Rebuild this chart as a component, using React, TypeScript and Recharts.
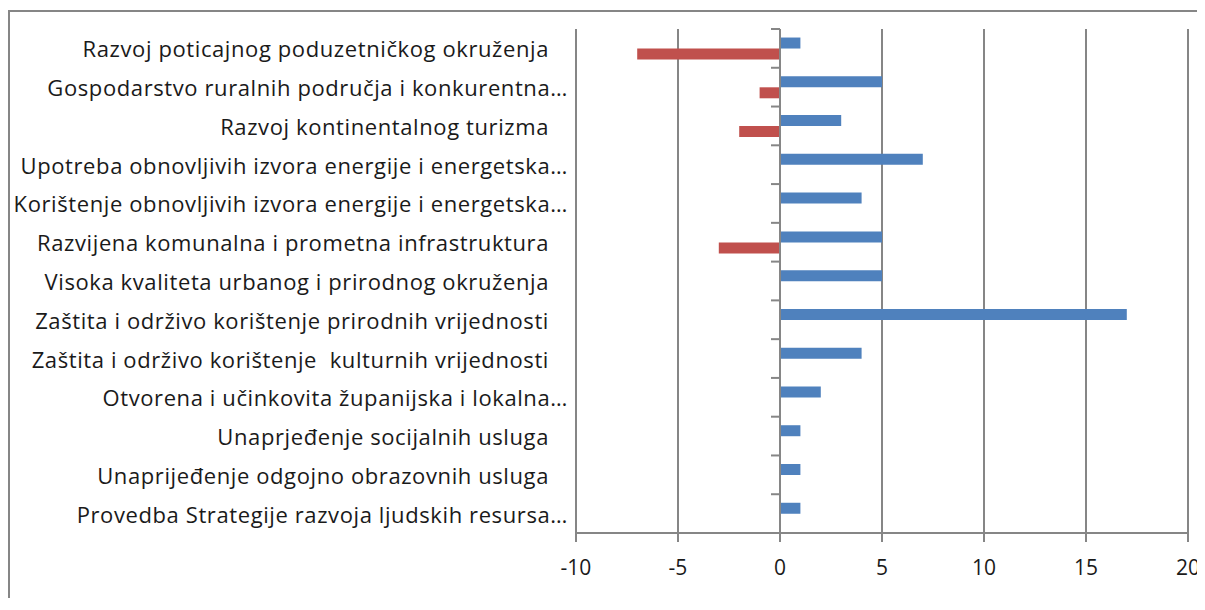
import { BarChart, Bar, XAxis, YAxis, CartesianGrid, ReferenceLine } from 'recharts'

const categories = [
  'Razvoj poticajnog poduzetničkog okruženja',
  'Gospodarstvo ruralnih područja i konkurentna…',
  'Razvoj kontinentalnog turizma',
  'Upotreba obnovljivih izvora energije i energetska…',
  'Korištenje obnovljivih izvora energije i energetska…',
  'Razvijena komunalna i prometna infrastruktura',
  'Visoka kvaliteta urbanog i prirodnog okruženja',
  'Zaštita i održivo korištenje prirodnih vrijednosti',
  'Zaštita i održivo korištenje  kulturnih vrijednosti',
  'Otvorena i učinkovita županijska i lokalna…',
  'Unaprjeđenje socijalnih usluga',
  'Unaprijeđenje odgojno obrazovnih usluga',
  'Provedba Strategije razvoja ljudskih resursa…',
]
const blueValues = [1, 5, 3, 7, 4, 5, 5, 17, 4, 2, 1, 1, 1]
const redValues: (number | null)[] = [-7, -1, -2, null, null, -3, null, null, null, null, null, null, null]
const xTicks = [-10, -5, 0, 5, 10, 15, 20]

const data = categories.map((name, i) => ({ name, blue: blueValues[i], red: redValues[i] }))

const GRID = '#868686'
const FONT = '"Open Sans", Lato, sans-serif'

function CategoryTick({ x, y, payload }: any) {
  const label: string = payload.value
  const pad = label.endsWith('…') ? 0 : 19
  return (
    <text x={x - pad} y={y} textAnchor="end" dominantBaseline="central"
      fontFamily={FONT} fontSize={22} letterSpacing={0.6} fill="#1a1a1a" style={{ whiteSpace: 'pre' }}>
      {label}
    </text>
  )
}

// vertical axis line at x = 0 with a small tick between each category
function ZeroAxis(props: any) {
  const { x1, y1, y2 } = props
  const n = categories.length
  const step = (y2 - y1) / n
  return (
    <g>
      <line x1={x1} y1={y1} x2={x1} y2={y2} stroke={GRID} strokeWidth={2} />
      {Array.from({ length: n + 1 }, (_, i) => (
        <line key={i} x1={x1 - 9} x2={x1} y1={y1 + i * step} y2={y1 + i * step} stroke={GRID} strokeWidth={2} />
      ))}
    </g>
  )
}

export default function App() {
  return (
    <div style={{
      position: 'relative', top: 2, width: 1195, height: 588,
      borderTop: `2px solid ${GRID}`, borderLeft: `2px solid ${GRID}`,
    }}>
      <BarChart
        width={1195}
        height={588}
        data={data}
        layout="vertical"
        margin={{ top: 17, right: 17, left: 0, bottom: 7 }}
        barCategoryGap="22%"
        barGap={0}
      >
        <CartesianGrid horizontal={false} stroke={GRID} strokeWidth={2} />
        <XAxis
          type="number"
          domain={[-10, 20]}
          ticks={xTicks}
          interval={0}
          height={60}
          stroke={GRID}
          strokeWidth={2}
          tickSize={9}
          tickMargin={18}
          tick={{ fontSize: 21, fill: '#1a1a1a', fontFamily: FONT }}
        />
        <YAxis
          type="category"
          dataKey="name"
          width={566}
          axisLine={false}
          tickLine={false}
          tickSize={0}
          tickMargin={8}
          interval={0}
          tick={<CategoryTick />}
        />
        <Bar dataKey="blue" fill="#4F81BD" isAnimationActive={false} />
        <Bar dataKey="red" fill="#C0504D" isAnimationActive={false} />
        <ReferenceLine x={0} shape={<ZeroAxis />} />
      </BarChart>
    </div>
  )
}
